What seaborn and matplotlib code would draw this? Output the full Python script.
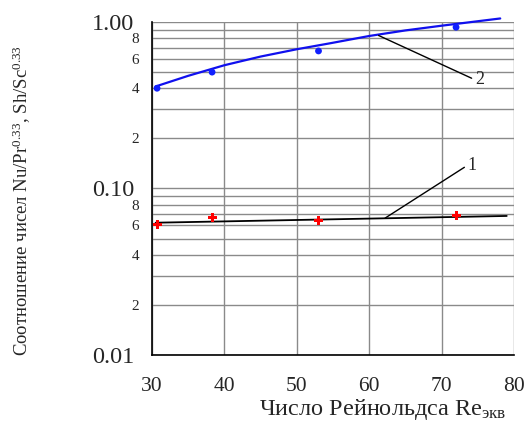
import numpy as np
import pandas as pd
import seaborn as sns
import matplotlib.pyplot as plt
from matplotlib.ticker import FixedLocator, FuncFormatter, MultipleLocator

# measured points
re_pts = [30.7, 38.3, 53.0, 72.0]
ratio_sh = [0.40, 0.50, 0.67, 0.93]      # curve 2
ratio_nu = [0.061, 0.067, 0.064, 0.069]  # curve 1

# fitted curves
fit2_re = [30.5, 35.0, 40.0, 45.0, 50.0, 54.6, 60.0, 65.0, 70.0, 78.1]
fit2_val = [0.41, 0.475, 0.55, 0.62, 0.686, 0.745, 0.824, 0.89, 0.95, 1.05]
fit1_re = [30.5, 79.0]
fit1_val = [0.0623, 0.0684]

x_ticks = [30, 40, 50, 60, 70, 80]
y_major = [0.01, 0.1, 1.0]
y_major_labels = ['0.01', '0.10', '1.00']

sns.set_style('white')
plt.rcParams['font.family'] = ['Liberation Serif', 'DejaVu Serif']
plt.rcParams['mathtext.default'] = 'regular'

fig = plt.figure(figsize=(5.27, 4.23), dpi=100)
ax = fig.add_axes([0.2884, 0.1608, 0.6869, 0.7872])

pts = pd.DataFrame({'re': re_pts, 'sh': ratio_sh, 'nu': ratio_nu})
sns.lineplot(x=fit2_re, y=fit2_val, ax=ax, color='#1010ee', lw=1.6, zorder=3)
sns.lineplot(x=fit1_re, y=fit1_val, ax=ax, color='black', lw=1.3, zorder=3)
sns.scatterplot(data=pts, x='re', y='sh', ax=ax, color='#1020ff', marker='o',
                s=24, edgecolor='none', zorder=4)
sns.scatterplot(data=pts, x='re', y='nu', ax=ax, color='#ff0000', marker='P',
                s=42, edgecolor='none', zorder=4)

ax.set_yscale('log')
ax.set_xlim(30, 80)
ax.set_ylim(0.01, 1.0)

ax.xaxis.set_major_locator(FixedLocator(x_ticks))
ax.xaxis.set_minor_locator(MultipleLocator(1))
ax.yaxis.set_major_locator(FixedLocator(y_major))
ax.yaxis.set_major_formatter(FuncFormatter(lambda v, p: y_major_labels[p] if p < 3 else ''))
minor_pos = [m * d for d in (0.01, 0.1) for m in range(2, 10)]
ax.yaxis.set_minor_locator(FixedLocator(minor_pos))


def minor_fmt(v, p):
    m = int(round(v / 10 ** np.floor(np.log10(v) + 1e-9)))
    return str(m) if m in (2, 4, 6, 8) else ''


ax.yaxis.set_minor_formatter(FuncFormatter(minor_fmt))

ax.tick_params(axis='y', which='major', direction='out', length=12, width=1,
               labelsize=17.5, pad=1, color='black')
ax.tick_params(axis='y', which='minor', direction='out', length=6, width=1,
               labelsize=11, pad=3, color='black')
ax.tick_params(axis='x', which='major', direction='in', length=7, width=1,
               labelsize=15.5, pad=16, color='black')
ax.tick_params(axis='x', which='minor', direction='in', length=4, width=0.8,
               color='black')

ax.grid(True, which='major', color='#8a8a8a', lw=1)
ax.grid(True, which='minor', axis='y', color='#8a8a8a', lw=1)
ax.set_axisbelow(True)

for s in ['top', 'right']:
    ax.spines[s].set_visible(False)
for s in ['left', 'bottom']:
    ax.spines[s].set_color('black')
    ax.spines[s].set_linewidth(1.2)

ax.set_ylabel('Соотношение чисел Nu/Pr$^{0.33}$, Sh/Sc$^{0.33}$', fontsize=13.5)
ax.yaxis.set_label_coords(-0.33, 0.465)
ax.set_xlabel('Число Рейнольдса Re$_{экв}$', fontsize=17.5, ha='right')
ax.xaxis.set_label_coords(0.978, -0.125)

ax.annotate('1', xy=(62.2, 0.0664), xytext=(73.6, 0.138), fontsize=13,
            ha='left', va='center',
            arrowprops=dict(arrowstyle='-', color='black', lw=1,
                            shrinkA=0, shrinkB=0, relpos=(0, 0.5)))
ax.annotate('2', xy=(61.3, 0.83), xytext=(74.6, 0.45), fontsize=13,
            ha='left', va='center',
            arrowprops=dict(arrowstyle='-', color='black', lw=1,
                            shrinkA=0, shrinkB=0, relpos=(0, 0.5)))

for art in ax.get_children():
    if hasattr(art, 'set_clip_on'):
        art.set_clip_on(False)

plt.savefig('out.png', dpi=100)
plt.close()
